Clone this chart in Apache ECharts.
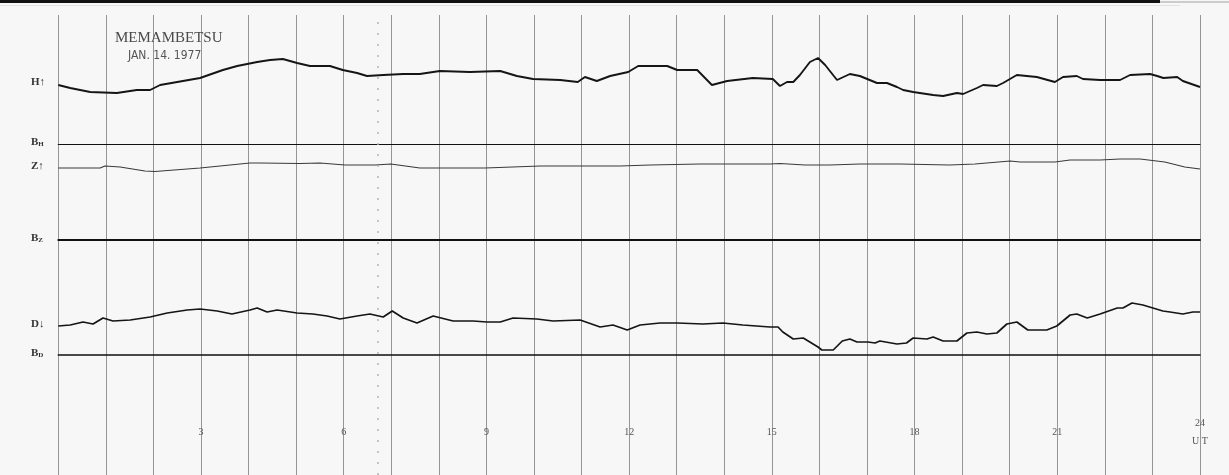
<!DOCTYPE html>
<html><head><meta charset="utf-8">
<script src="https://cdn.jsdelivr.net/npm/echarts@6/dist/echarts.min.js"></script>
<style>html,body{margin:0;padding:0;background:#f7f7f7}#c{width:1229px;height:475px}</style>
</head><body><div id="c"></div>
<script>
// Hours (UT) and trace deflections above each baseline (arbitrary units)
const hourTicks = [3, 6, 9, 12, 15, 18, 21, 24];
const H = [[0.00,59],[0.25,56],[0.67,52],[1.23,51],[1.65,54],[1.93,54],[2.14,59],[2.62,63],[2.98,66],[3.46,74],[3.76,78],[4.18,82],[4.45,84],[4.72,85],[5.02,81],[5.29,78],[5.71,78],[5.98,74],[6.28,71],[6.49,68],[6.83,69],[7.25,70],[7.60,70],[8.02,73],[8.65,72],[9.29,73],[9.64,68],[9.98,65],[10.55,64],[10.92,62],[11.07,67],[11.32,63],[11.60,68],[11.98,72],[12.19,78],[12.80,78],[13.01,74],[13.43,74],[13.74,59],[14.06,63],[14.60,66],[15.02,65],[15.17,58],[15.32,62],[15.45,62],[15.59,69],[15.80,82],[15.97,86],[16.12,79],[16.37,64],[16.64,70],[16.85,68],[17.21,61],[17.42,61],[17.63,57],[17.76,54],[17.97,52],[18.39,49],[18.60,48],[18.89,51],[19.02,50],[19.31,56],[19.44,59],[19.73,58],[19.86,61],[20.15,69],[20.57,67],[20.95,62],[21.12,67],[21.41,68],[21.54,65],[21.90,64],[22.32,64],[22.53,69],[22.95,70],[23.10,68],[23.23,66],[23.52,67],[23.64,63],[24.00,57]];
const Z = [[0.00,72],[0.88,72],[0.98,74],[1.30,73],[1.82,69],[2.03,68.5],[2.98,72],[3.61,75],[4.03,77],[4.24,77],[5.08,76.5],[5.50,77],[6.03,75],[6.66,75],[6.99,76],[7.60,72],[8.97,72],[10.13,74],[11.81,74],[12.44,75],[13.49,76],[14.96,76],[15.17,76.5],[15.70,75],[16.22,75],[16.85,76],[17.69,76],[18.74,75],[19.27,76],[20.01,79],[20.22,78],[20.95,78],[21.27,80],[21.90,80],[22.32,81],[22.74,81],[23.26,78],[23.68,73],[24.00,71]];
const D = [[0.00,29],[0.25,30],[0.52,33],[0.73,31],[0.94,37],[1.15,34],[1.51,35],[1.93,38],[2.29,42],[2.71,45],[2.98,46],[3.34,44],[3.65,41],[4.03,45],[4.18,47],[4.39,43],[4.60,45],[5.02,42],[5.35,41],[5.65,39],[5.92,36],[6.28,39],[6.55,41],[6.83,38],[7.02,44],[7.25,37],[7.54,32],[7.88,39],[8.30,34],[8.72,34],[9.01,33],[9.29,33],[9.56,37],[10.06,36],[10.40,34],[10.97,35],[11.39,28],[11.66,30],[11.96,25],[12.23,30],[12.65,32],[13.01,32],[13.55,31],[13.97,32],[14.39,30],[14.96,28],[15.13,28],[15.23,23],[15.45,16],[15.66,17],[15.97,8],[16.05,5],[16.29,5],[16.48,14],[16.64,16],[16.79,13],[17.02,13],[17.17,12],[17.27,14],[17.63,11],[17.83,12],[17.97,17],[18.26,16],[18.39,18],[18.60,14],[18.89,14],[19.10,22],[19.31,23],[19.52,21],[19.73,22],[19.94,31],[20.15,33],[20.38,25],[20.78,25],[20.99,29],[21.27,40],[21.41,41],[21.63,37],[21.90,41],[22.26,47],[22.38,47],[22.57,52],[22.80,50],[23.22,44],[23.37,43],[23.64,41],[23.85,43],[24.00,43]];

const L = 58.3, R = 29;
const chart = echarts.init(document.getElementById('c'), null, {renderer: 'canvas'});
const baseX = (gi, lw) => ({
  gridIndex: gi, type: 'value', min: 0, max: 24, interval: 1,
  axisLine: {show: gi > 0, onZero: false, lineStyle: {color: '#111', width: lw}},
  axisTick: {show: false}, axisLabel: {show: false}, splitLine: {show: false}
});
const baseY = (gi, max) => ({gridIndex: gi, type: 'value', min: 0, max: max, show: false});
const lbl = (t, y) => ({type: 'text', left: 31, top: y - 7, style: {text: t, fill: '#333', font: 'bold 11px "Liberation Serif", serif',
  rich: {s: {fontSize: 7, fontWeight: 'bold', fontFamily: 'Liberation Serif', fill: '#333', padding: [3, 0, 0, 0]}}}});
chart.setOption({
  backgroundColor: '#f7f7f7',
  animation: false,
  title: [
    {text: 'MEMAMBETSU', left: 110, top: 26, textStyle: {fontFamily: '"Liberation Serif", serif', fontSize: 15, fontWeight: 'normal', color: '#4a4a4a'}},
    {text: 'JAN. 14. 1977', left: 123, top: 45, textStyle: {fontFamily: '"Liberation Sans Narrow", "DejaVu Sans Condensed", sans-serif', fontSize: 12, fontWeight: 'normal', color: '#555'}}
  ],
  grid: [
    {left: L, right: R, top: 15, bottom: 0},
    {left: L, right: R, top: 40, bottom: 475 - 144},
    {left: L, right: R, top: 140, bottom: 475 - 240},
    {left: L, right: R, top: 290, bottom: 475 - 355}
  ],
  xAxis: [
    {gridIndex: 0, type: 'value', min: 0, max: 24, interval: 1,
     axisLine: {show: false}, axisTick: {show: false},
     splitLine: {show: true, lineStyle: {color: '#959595', width: 1}},
     axisLabel: {show: true, inside: true, margin: 43, verticalAlign: 'middle', showMaxLabel: true,
       color: '#555', fontSize: 10, fontFamily: '"Liberation Serif", serif', lineHeight: 18,
       formatter: v => hourTicks.indexOf(v) < 0 ? '' : (v === 24 ? '24\nU T' : String(v))}},
    baseX(1, 1.2), baseX(2, 2), baseX(3, 1.6)
  ],
  yAxis: [baseY(0, 1), baseY(1, 104), baseY(2, 100), baseY(3, 65)],
  graphic: [
    {type: 'rect', shape: {x: 0, y: 0, width: 1160, height: 3}, style: {fill: '#111'}},
    {type: 'rect', shape: {x: 1160, y: 1, width: 69, height: 2}, style: {fill: '#ccc'}},
    {type: 'rect', shape: {x: 0, y: 5, width: 1180, height: 1}, style: {fill: '#e2e2e2'}},
    lbl('H↑', 84), lbl('B{s|H}', 144), lbl('Z↑', 168), lbl('B{s|Z}', 240), lbl('D↓', 326), lbl('B{s|D}', 355)
  ],
  series: [
    {type: 'line', xAxisIndex: 0, yAxisIndex: 0, data: [], silent: true,
     markLine: {silent: true, symbol: 'none', label: {show: false},
       lineStyle: {color: '#b5b5b5', type: [2, 9], width: 1.5}, data: [{xAxis: 6.72}]}},
    {type: 'line', xAxisIndex: 1, yAxisIndex: 1, data: H, symbol: 'none', lineStyle: {color: '#151515', width: 1.9}},
    {type: 'line', xAxisIndex: 2, yAxisIndex: 2, data: Z, symbol: 'none', lineStyle: {color: '#3a3a3a', width: 1.2}},
    {type: 'line', xAxisIndex: 3, yAxisIndex: 3, data: D, symbol: 'none', lineStyle: {color: '#151515', width: 1.7}}
  ]
});
</script></body></html>
